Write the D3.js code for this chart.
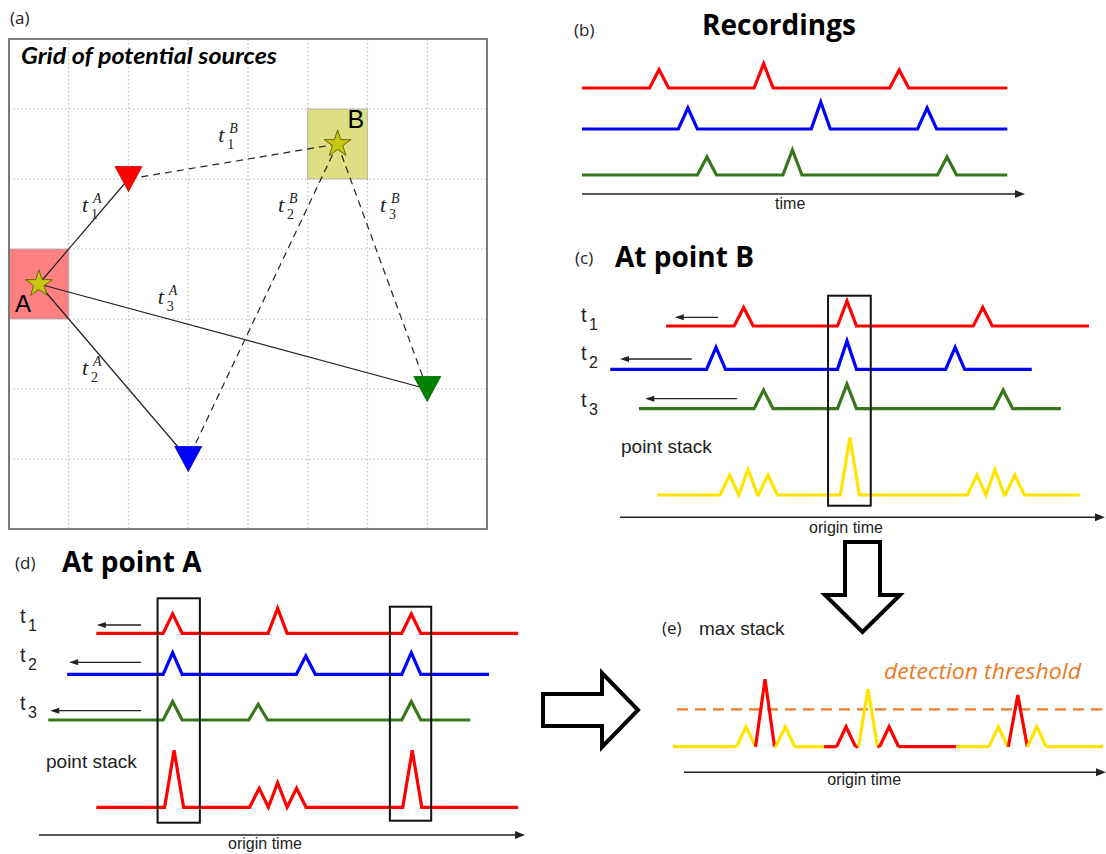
<!DOCTYPE html>
<html><head><meta charset="utf-8">
<script src="https://cdn.jsdelivr.net/npm/d3@7"></script>
<style>body{margin:0;background:#fff}svg{display:block}</style>
</head><body><svg id="c" width="1106" height="854"></svg>
<script>
// ================= DATA =================
// (a) grid of potential sources (grid units: columns / rows)
const gridCols = 8, gridRows = 7;
const stationIds = ['1', '2', '3'];
const stationCol = [2, 3, 7];
const stationRow = [2, 6, 5];
const sourceIds = ['A', 'B'];
const sourceCol = [0.5, 5.5];
const sourceRow = [3.5, 1.5];
// travel-time labels t_sta^src (anchor in grid units)
const ttLabelSrc = ['B', 'A', 'B', 'B', 'A', 'A'];
const ttLabelSta = ['1', '1', '2', '3', '3', '2'];
const ttLabelCol = [3.5, 1.22, 4.5, 6.21, 2.49, 1.22];
const ttLabelRow = [1.47, 2.47, 2.47, 2.47, 3.78, 4.8];

// (b) recordings: time 0..100, amplitude units
const recSpan = [0, 96];
const recPeakTimes = [[17.4, 41.0, 71.6], [23.9, 53.9, 77.9], [28.2, 47.5, 82.4]];
const recPeakAmps  = [[0.92, 1.22, 0.9], [1.05, 1.35, 1.05], [0.9, 1.25, 0.9]];

// (c) at point B: shifted traces
const bSpans = [[9.5, 96.7], [-2.0, 84.9], [3.9, 90.9]];
const bPeakTimes = [[25.5, 46.8, 74.8], [19.8, 46.8, 69.1], [29.6, 46.8, 79.0]];
const bPeakAmps  = [[0.92, 1.25, 0.92], [1.1, 1.42, 1.1], [0.93, 1.23, 0.93]];
const bShiftArrows = [[20.2, 11.3], [14.8, 0], [24.1, 5.2]];
const bStackSpan = [7.7, 94.8];
const bStackTimes = [22.6, 26.4, 30.5, 47.4, 73.6, 77.3, 81.4];
const bStackAmps  = [1.0, 1.28, 1.0, 2.88, 1.0, 1.28, 1.0];
const bWindows = [[42.9, 51.7]];

// (d) at point A
const aSpans = [[11.8, 98.6], [5.8, 92.6], [1.9, 88.7]];
const aPeakTimes = [[27.5, 49.1, 76.6], [27.5, 54.9, 76.6], [27.5, 45.1, 76.6]];
const aPeakAmps  = [[0.97, 1.25, 0.97], [1.08, 0.92, 1.08], [0.92, 0.78, 0.92]];
const aShiftArrows = [[21.0, 11.9], [21.0, 6.2], [21.0, 2.3]];
const aStackSpan = [11.8, 98.6];
const aStackTimes = [27.8, 45.3, 49.1, 53.0, 76.8];
const aStackAmps  = [2.85, 0.95, 1.23, 0.95, 2.85];
const aWindows = [[24.4, 33.1], [72.2, 80.7]];

// (e) max stack
const maxSpan = [-2.6, 99.3];
const maxSegEnds = [33.2, 64.5, 99.3];
const maxSegSource = ['B', 'A', 'B'];
const maxPeakTimes = [14.7, 19.2, 24.0, 38.4, 43.6, 48.6, 74.5, 79.1, 83.6];
const maxPeakAmps  = [1.0, 3.38, 1.0, 1.0, 2.87, 1.0, 1.0, 2.58, 1.0];
const maxPeakSource = ['B', 'A', 'B', 'A', 'B', 'A', 'B', 'A', 'B'];
const detectionThreshold = 1.87;

// ================= STYLE / LAYOUT =================
const staColor = {'1': '#ff0000', '2': '#0000ff', '3': '#38761d'};
const staMarkColor = {'1': '#ff0000', '2': '#0000ff', '3': '#008000'};
const srcColor = {'A': '#ff0000', 'B': '#ffe400'};
const cellColor = {'A': '#ff8080', 'B': '#dede82'};
const TW = 3.2, HW = 9.5;
const sans = 'Liberation Sans, Arial, sans-serif';
const serif = 'Liberation Serif, Times New Roman, serif';
const ui = 'Open Sans, sans-serif';

const svg = d3.select('#c');
svg.append('rect').attr('width', 1106).attr('height', 854).attr('fill', '#fff');
const amp = d3.scaleLinear().domain([0, 1]).range([0, 20]);
const line = d3.line();

function pulsePoints(xs, y0, span, times, amps) {
  const pts = [[xs(span[0]), y0]];
  const cs = times.map(xs);
  cs.forEach((c, i) => {
    let l = c - HW, r = c + HW;
    if (i > 0) l = Math.max(l, (cs[i - 1] + c) / 2);
    if (i < cs.length - 1) r = Math.min(r, (cs[i + 1] + c) / 2);
    pts.push([l, y0], [c, y0 - amp(amps[i])], [r, y0]);
  });
  pts.push([xs(span[1]), y0]);
  return pts;
}
function drawTrace(g, pts, color) {
  g.append('path').attr('d', line(pts)).attr('fill', 'none').attr('stroke', color)
    .attr('stroke-width', TW).attr('stroke-linejoin', 'miter').attr('stroke-linecap', 'butt');
}
function axisArrow(g, x1, x2, y) {
  g.append('line').attr('x1', x1).attr('x2', x2 - 8).attr('y1', y).attr('y2', y)
    .attr('stroke', '#222').attr('stroke-width', 1.4);
  g.append('path').attr('d', `M${x2},${y}L${x2 - 10},${y - 4}L${x2 - 10},${y + 4}Z`).attr('fill', '#222');
}
function smallArrow(g, x1, x2, y) {
  g.append('line').attr('x1', x1).attr('x2', x2 + 6).attr('y1', y).attr('y2', y)
    .attr('stroke', '#222').attr('stroke-width', 1.3);
  g.append('path').attr('d', `M${x2},${y}L${x2 + 9},${y - 3}L${x2 + 9},${y + 3}Z`).attr('fill', '#222');
}
function text(g, x, y, str, size, opts = {}) {
  const t = g.append('text').attr('x', x).attr('y', y).text(str)
    .attr('font-family', opts.family || sans).attr('font-size', size)
    .attr('font-weight', opts.weight || 'normal').attr('font-style', opts.style || 'normal')
    .attr('fill', opts.fill || '#111').attr('text-anchor', opts.anchor || 'start');
  if (opts.len) t.attr('textLength', opts.len).attr('lengthAdjust', 'spacingAndGlyphs');
  return t;
}
function tLabel(g, x, y, sub) {
  const t = g.append('text').attr('x', x).attr('y', y).attr('font-family', sans).attr('fill', '#222');
  t.append('tspan').attr('font-size', 20).text('t');
  t.append('tspan').attr('x', x + 8).attr('y', y + 8).attr('font-size', 16).text(sub);
}

// ================= (a) =================
const ga = svg.append('g');
const gx = d3.scaleLinear().domain([0, gridCols]).range([9, 487]);
const gy = d3.scaleLinear().domain([0, gridRows]).range([39, 529]);
text(ga, 10, 24, '(a)', 17, {family: ui, fill: '#222'});
sourceIds.forEach((s, i) => {
  const c = Math.floor(sourceCol[i]), r = Math.floor(sourceRow[i]);
  ga.append('rect').attr('x', gx(c)).attr('y', gy(r)).attr('width', gx(c + 1) - gx(c))
    .attr('height', gy(r + 1) - gy(r)).attr('fill', cellColor[s]).attr('stroke', '#999').attr('stroke-width', 0.6);
});
d3.range(1, gridCols).forEach(c => ga.append('line').attr('x1', gx(c)).attr('x2', gx(c))
  .attr('y1', gy(0)).attr('y2', gy(gridRows)).attr('stroke', '#b8b8b8').attr('stroke-width', 1.2).attr('stroke-dasharray', '1.5,2.5'));
d3.range(1, gridRows).forEach(r => ga.append('line').attr('y1', gy(r)).attr('y2', gy(r))
  .attr('x1', gx(0)).attr('x2', gx(gridCols)).attr('stroke', '#b8b8b8').attr('stroke-width', 1.2).attr('stroke-dasharray', '1.5,2.5'));
ga.append('rect').attr('x', gx(0)).attr('y', gy(0)).attr('width', gx(gridCols) - gx(0))
  .attr('height', gy(gridRows) - gy(0)).attr('fill', 'none').attr('stroke', '#7a7a7a').attr('stroke-width', 2);
text(ga, 21, 64, 'Grid of potential sources', 23, {family: 'Lato, sans-serif', weight: 'bold', style: 'italic', fill: '#000', len: 256});
// ray paths
stationIds.forEach((st, i) => {
  ga.append('line').attr('x1', gx(sourceCol[0])).attr('y1', gy(sourceRow[0]))
    .attr('x2', gx(stationCol[i])).attr('y2', gy(stationRow[i])).attr('stroke', '#222').attr('stroke-width', 1.2);
  ga.append('line').attr('x1', gx(sourceCol[1])).attr('y1', gy(sourceRow[1]))
    .attr('x2', gx(stationCol[i])).attr('y2', gy(stationRow[i])).attr('stroke', '#222').attr('stroke-width', 1.2)
    .attr('stroke-dasharray', '7,5');
});
// stations
stationIds.forEach((st, i) => {
  ga.append('path').attr('d', 'M-13.5,-12.5L13.5,-12.5L0,12.5Z')
    .attr('transform', `translate(${gx(stationCol[i])},${gy(stationRow[i])})`)
    .attr('fill', staMarkColor[st]).attr('stroke', d3.color(staMarkColor[st]).darker(0.6)).attr('stroke-width', 0.8);
});
// sources
sourceIds.forEach((s, i) => {
  ga.append('path').attr('d', d3.symbol(d3.symbolStar, 225)())
    .attr('transform', `translate(${gx(sourceCol[i])},${gy(sourceRow[i])})`)
    .attr('fill', '#c8c814').attr('stroke', '#5e5e00').attr('stroke-width', 0.9);
});
text(ga, gx(0) + 6, gy(4) - 7, 'A', 24, {fill: '#000'});
text(ga, gx(6) - 20, gy(1) + 19, 'B', 25, {fill: '#000'});
ttLabelSrc.forEach((s, i) => {
  const x = gx(ttLabelCol[i]), y = gy(ttLabelRow[i]);
  const t = ga.append('text').attr('x', x).attr('y', y).attr('font-family', serif).attr('fill', '#222');
  t.append('tspan').attr('font-size', 22).attr('font-style', 'italic').text('t');
  t.append('tspan').attr('x', x + 11).attr('y', y - 9).attr('font-size', 14).attr('font-style', 'italic').text(s);
  t.append('tspan').attr('x', x + 9).attr('y', y + 7).attr('font-size', 14).text(ttLabelSta[i]);
});

// ================= (b) =================
const gb = svg.append('g');
const xB = d3.scaleLinear().domain([0, 100]).range([582, 1025]);
const recY = [88, 129, 175];
text(gb, 574, 36, '(b)', 17, {family: ui, fill: '#222'});
text(gb, 702, 35, 'Recordings', 28, {family: ui, weight: 'bold', fill: '#000'});
stationIds.forEach((st, i) => drawTrace(gb, pulsePoints(xB, recY[i], recSpan, recPeakTimes[i], recPeakAmps[i]), staColor[st]));
axisArrow(gb, xB(0), xB(100), 194);
text(gb, xB(47), 209, 'time', 16, {anchor: 'middle', fill: '#222'});

// ================= (c) =================
const gc = svg.append('g');
const xC = d3.scaleLinear().domain([0, 100]).range([620, 1105]);
const cY = [326, 369.3, 408.7], cStackY = 495, cAxisY = 517.3;
const cArrowY = [317.3, 359, 398.7], cLabY = [322, 360, 406.7];
text(gc, 575, 264, '(c)', 17, {family: ui, fill: '#222'});
text(gc, 615, 267, 'At point B', 28, {family: ui, weight: 'bold', fill: '#000'});
stationIds.forEach((st, i) => {
  drawTrace(gc, pulsePoints(xC, cY[i], bSpans[i], bPeakTimes[i], bPeakAmps[i]), staColor[st]);
  smallArrow(gc, xC(bShiftArrows[i][0]), xC(bShiftArrows[i][1]), cArrowY[i]);
  tLabel(gc, 581, cLabY[i], st);
});
text(gc, 621, 453, 'point stack', 19, {fill: '#222'});
drawTrace(gc, pulsePoints(xC, cStackY, bStackSpan, bStackTimes, bStackAmps), srcColor.B);
bWindows.forEach(w => gc.append('rect').attr('x', xC(w[0])).attr('width', xC(w[1]) - xC(w[0]))
  .attr('y', 295.7).attr('height', 210).attr('fill', 'none').attr('stroke', '#111').attr('stroke-width', 2));
axisArrow(gc, xC(0), xC(100), cAxisY);
text(gc, xC(46.6), 533, 'origin time', 16, {anchor: 'middle', fill: '#222'});

// big down arrow
svg.append('path').attr('d', 'M845,542L880,542L880,595L900,595L862.5,632L825,595L845,595Z')
  .attr('fill', '#fff').attr('stroke', '#000').attr('stroke-width', 4);

// ================= (d) =================
const gd = svg.append('g');
const xD = d3.scaleLinear().domain([0, 100]).range([39, 525]);
const dY = [633.3, 674.3, 720], dStackY = 807.3, dAxisY = 835;
const dArrowY = [625, 662.3, 710.7], dLabY = [623, 661.7, 710];
const dWinY = [[598.3, 822.7], [606.7, 820.7]];
text(gd, 15, 569, '(d)', 17, {family: ui, fill: '#222'});
text(gd, 62, 572, 'At point A', 28, {family: ui, weight: 'bold', fill: '#000'});
stationIds.forEach((st, i) => {
  drawTrace(gd, pulsePoints(xD, dY[i], aSpans[i], aPeakTimes[i], aPeakAmps[i]), staColor[st]);
  smallArrow(gd, xD(aShiftArrows[i][0]), xD(aShiftArrows[i][1]), dArrowY[i]);
  tLabel(gd, 20, dLabY[i], st);
});
text(gd, 46, 768, 'point stack', 19, {fill: '#222'});
drawTrace(gd, pulsePoints(xD, dStackY, aStackSpan, aStackTimes, aStackAmps), srcColor.A);
aWindows.forEach((w, i) => gd.append('rect').attr('x', xD(w[0])).attr('width', xD(w[1]) - xD(w[0]))
  .attr('y', dWinY[i][0]).attr('height', dWinY[i][1] - dWinY[i][0]).attr('fill', 'none').attr('stroke', '#111').attr('stroke-width', 2));
axisArrow(gd, xD(0), xD(100), dAxisY);
text(gd, xD(46.5), 849, 'origin time', 16, {anchor: 'middle', fill: '#222'});

// big right arrow
svg.append('path').attr('d', 'M543,694L602,694L602,673L638,710L602,747L602,726L543,726Z')
  .attr('fill', '#fff').attr('stroke', '#000').attr('stroke-width', 4);

// ================= (e) =================
const ge = svg.append('g');
const xE = d3.scaleLinear().domain([0, 100]).range([684, 1106]);
const eY = 746.7, eAxisY = 772.3;
text(ge, 662, 634, '(e)', 17, {family: ui, fill: '#222'});
text(ge, 699, 635, 'max stack', 19, {fill: '#222'});
ge.append('line').attr('x1', xE(-1.66)).attr('x2', xE(100)).attr('y1', eY - amp(detectionThreshold)).attr('y2', eY - amp(detectionThreshold))
  .attr('stroke', '#ee7a22').attr('stroke-width', 2.2).attr('stroke-dasharray', '11,7');
text(ge, 884, 679, 'detection threshold', 22, {family: ui, style: 'italic', fill: '#ee7a22', len: 197});
(function () {
  const segStarts = [maxSpan[0]].concat(maxSegEnds.slice(0, -1));
  function baseline(a, b) { // pixel range
    segStarts.forEach((s0, k) => {
      const lo = Math.max(a, xE(s0)), hi = Math.min(b, xE(maxSegEnds[k]));
      if (hi > lo) drawTrace(ge, [[lo, eY], [hi, eY]], srcColor[maxSegSource[k]]);
    });
  }
  const cs = maxPeakTimes.map(xE);
  let prev = xE(maxSpan[0]);
  cs.forEach((c, i) => {
    let l = c - HW, r = c + HW;
    if (i > 0) l = Math.max(l, (cs[i - 1] + c) / 2);
    if (i < cs.length - 1) r = Math.min(r, (cs[i + 1] + c) / 2);
    baseline(prev, l);
    drawTrace(ge, [[l, eY], [c, eY - amp(maxPeakAmps[i])], [r, eY]], srcColor[maxPeakSource[i]]);
    prev = r;
  });
  baseline(prev, xE(maxSpan[1]));
})();
axisArrow(ge, xE(0), xE(100), eAxisY);
text(ge, xE(42.7), 785, 'origin time', 16, {anchor: 'middle', fill: '#222'});
</script></body></html>
